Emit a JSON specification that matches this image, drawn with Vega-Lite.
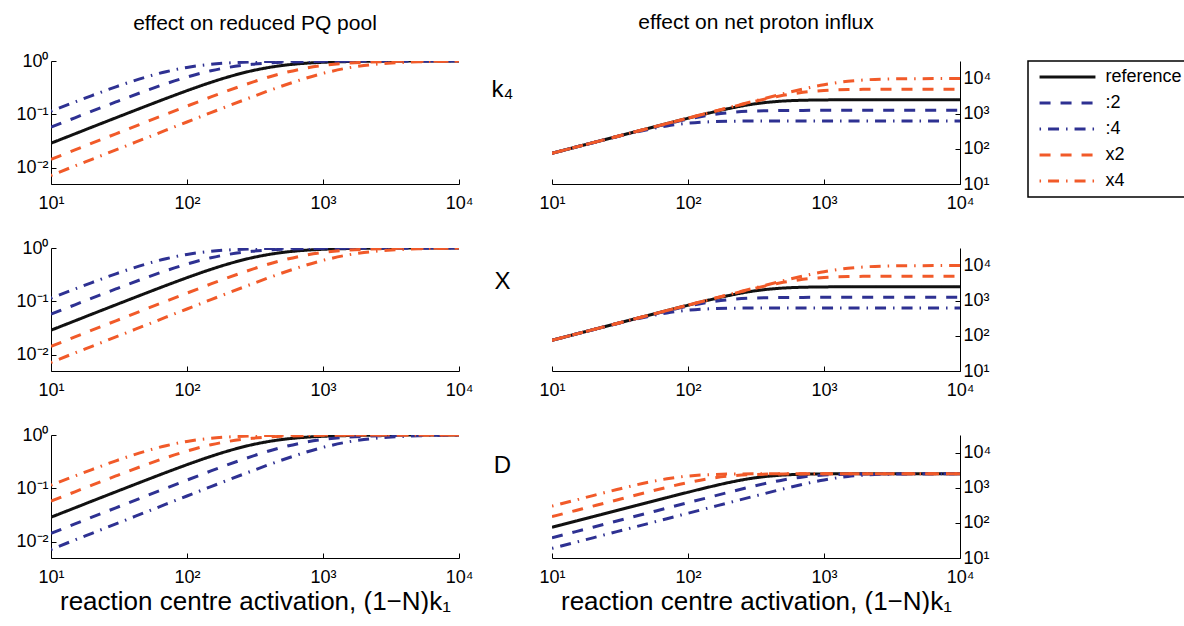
{
  "$schema": "https://vega.github.io/schema/vega-lite/v6.json",
  "background": "white",
  "padding": {"left": 15, "top": 12, "right": 0, "bottom": 0},
  "config": {
    "font": "Liberation Sans",
    "view": {"stroke": null},
    "axis": {"grid": false, "domainColor": "black", "tickColor": "black", "labelColor": "black", "labelFont": "Liberation Sans", "labelFontSize": 18, "tickSize": -5, "labelFlush": false, "labelOverlap": false, "titleFont": "Liberation Sans", "titleFontWeight": "normal", "titleColor": "black", "domainWidth": 1, "tickWidth": 1},
    "axisX": {"labelPadding": 15},
    "axisY": {"labelPadding": 8},
    "title": {"font": "Liberation Sans", "fontSize": 21, "fontWeight": "normal", "color": "black", "offset": 18},
    "legend": {"orient": "right", "offset": 37, "strokeColor": "black", "strokeWidth": 1.5, "padding": 7, "symbolType": "M-5,0H5", "symbolSize": 125, "symbolStrokeWidth": 3, "symbolOffset": 23.5, "labelOffset": 29, "labelFontSize": 18, "labelFont": "Liberation Sans", "labelColor": "black", "rowPadding": 8}
  },
  "data": {"values": [
    {"r":"k4","c":"L","s":"reference","x":10,"y":0.029},{"r":"k4","c":"L","s":"reference","x":15,"y":0.0434},{"r":"k4","c":"L","s":"reference","x":20,"y":0.0579},{"r":"k4","c":"L","s":"reference","x":30,"y":0.0866},{"r":"k4","c":"L","s":"reference","x":50,"y":0.1434},{"r":"k4","c":"L","s":"reference","x":70,"y":0.1989},{"r":"k4","c":"L","s":"reference","x":100,"y":0.2784},{"r":"k4","c":"L","s":"reference","x":150,"y":0.3987},{"r":"k4","c":"L","s":"reference","x":200,"y":0.5015},{"r":"k4","c":"L","s":"reference","x":300,"y":0.6562},{"r":"k4","c":"L","s":"reference","x":500,"y":0.8231},{"r":"k4","c":"L","s":"reference","x":700,"y":0.897},{"r":"k4","c":"L","s":"reference","x":1000,"y":0.9453},{"r":"k4","c":"L","s":"reference","x":1500,"y":0.9746},{"r":"k4","c":"L","s":"reference","x":2000,"y":0.9855},{"r":"k4","c":"L","s":"reference","x":3000,"y":0.9935},{"r":"k4","c":"L","s":"reference","x":5000,"y":0.9976},{"r":"k4","c":"L","s":"reference","x":10000,"y":0.9994},
    {"r":"k4","c":"L","s":":2","x":10,"y":0.0579},{"r":"k4","c":"L","s":":2","x":15,"y":0.0866},{"r":"k4","c":"L","s":":2","x":20,"y":0.1152},{"r":"k4","c":"L","s":":2","x":30,"y":0.1713},{"r":"k4","c":"L","s":":2","x":50,"y":0.2784},{"r":"k4","c":"L","s":":2","x":70,"y":0.376},{"r":"k4","c":"L","s":":2","x":100,"y":0.5015},{"r":"k4","c":"L","s":":2","x":150,"y":0.6562},{"r":"k4","c":"L","s":":2","x":200,"y":0.7573},{"r":"k4","c":"L","s":":2","x":300,"y":0.8669},{"r":"k4","c":"L","s":":2","x":500,"y":0.9453},{"r":"k4","c":"L","s":":2","x":700,"y":0.971},{"r":"k4","c":"L","s":":2","x":1000,"y":0.9855},{"r":"k4","c":"L","s":":2","x":1500,"y":0.9935},{"r":"k4","c":"L","s":":2","x":2000,"y":0.9963},{"r":"k4","c":"L","s":":2","x":3000,"y":0.9984},{"r":"k4","c":"L","s":":2","x":5000,"y":0.9994},{"r":"k4","c":"L","s":":2","x":10000,"y":0.9999},
    {"r":"k4","c":"L","s":":4","x":10,"y":0.1152},{"r":"k4","c":"L","s":":4","x":15,"y":0.1713},{"r":"k4","c":"L","s":":4","x":20,"y":0.2259},{"r":"k4","c":"L","s":":4","x":30,"y":0.3285},{"r":"k4","c":"L","s":":4","x":50,"y":0.5015},{"r":"k4","c":"L","s":":4","x":70,"y":0.6302},{"r":"k4","c":"L","s":":4","x":100,"y":0.7573},{"r":"k4","c":"L","s":":4","x":150,"y":0.8669},{"r":"k4","c":"L","s":":4","x":200,"y":0.9183},{"r":"k4","c":"L","s":":4","x":300,"y":0.9611},{"r":"k4","c":"L","s":":4","x":500,"y":0.9855},{"r":"k4","c":"L","s":":4","x":700,"y":0.9925},{"r":"k4","c":"L","s":":4","x":1000,"y":0.9963},{"r":"k4","c":"L","s":":4","x":1500,"y":0.9984},{"r":"k4","c":"L","s":":4","x":2000,"y":0.9991},{"r":"k4","c":"L","s":":4","x":3000,"y":0.9996},{"r":"k4","c":"L","s":":4","x":5000,"y":0.9999},{"r":"k4","c":"L","s":":4","x":10000,"y":1},
    {"r":"k4","c":"L","s":"x2","x":10,"y":0.0145},{"r":"k4","c":"L","s":"x2","x":15,"y":0.0217},{"r":"k4","c":"L","s":"x2","x":20,"y":0.029},{"r":"k4","c":"L","s":"x2","x":30,"y":0.0434},{"r":"k4","c":"L","s":"x2","x":50,"y":0.0723},{"r":"k4","c":"L","s":"x2","x":70,"y":0.1009},{"r":"k4","c":"L","s":"x2","x":100,"y":0.1434},{"r":"k4","c":"L","s":"x2","x":150,"y":0.2124},{"r":"k4","c":"L","s":"x2","x":200,"y":0.2784},{"r":"k4","c":"L","s":"x2","x":300,"y":0.3987},{"r":"k4","c":"L","s":"x2","x":500,"y":0.5868},{"r":"k4","c":"L","s":"x2","x":700,"y":0.7122},{"r":"k4","c":"L","s":"x2","x":1000,"y":0.8231},{"r":"k4","c":"L","s":"x2","x":1500,"y":0.9085},{"r":"k4","c":"L","s":"x2","x":2000,"y":0.9453},{"r":"k4","c":"L","s":"x2","x":3000,"y":0.9746},{"r":"k4","c":"L","s":"x2","x":5000,"y":0.9906},{"r":"k4","c":"L","s":"x2","x":10000,"y":0.9976},
    {"r":"k4","c":"L","s":"x4","x":10,"y":0.0072},{"r":"k4","c":"L","s":"x4","x":15,"y":0.0109},{"r":"k4","c":"L","s":"x4","x":20,"y":0.0145},{"r":"k4","c":"L","s":"x4","x":30,"y":0.0217},{"r":"k4","c":"L","s":"x4","x":50,"y":0.0362},{"r":"k4","c":"L","s":"x4","x":70,"y":0.0507},{"r":"k4","c":"L","s":"x4","x":100,"y":0.0723},{"r":"k4","c":"L","s":"x4","x":150,"y":0.1081},{"r":"k4","c":"L","s":"x4","x":200,"y":0.1434},{"r":"k4","c":"L","s":"x4","x":300,"y":0.2124},{"r":"k4","c":"L","s":"x4","x":500,"y":0.3407},{"r":"k4","c":"L","s":"x4","x":700,"y":0.4524},{"r":"k4","c":"L","s":"x4","x":1000,"y":0.5868},{"r":"k4","c":"L","s":"x4","x":1500,"y":0.7359},{"r":"k4","c":"L","s":"x4","x":2000,"y":0.8231},{"r":"k4","c":"L","s":"x4","x":3000,"y":0.9085},{"r":"k4","c":"L","s":"x4","x":5000,"y":0.964},{"r":"k4","c":"L","s":"x4","x":10000,"y":0.9906},

    {"r":"X","c":"L","s":"reference","x":10,"y":0.029},{"r":"X","c":"L","s":"reference","x":15,"y":0.0434},{"r":"X","c":"L","s":"reference","x":20,"y":0.0579},{"r":"X","c":"L","s":"reference","x":30,"y":0.0866},{"r":"X","c":"L","s":"reference","x":50,"y":0.1434},{"r":"X","c":"L","s":"reference","x":70,"y":0.1989},{"r":"X","c":"L","s":"reference","x":100,"y":0.2784},{"r":"X","c":"L","s":"reference","x":150,"y":0.3987},{"r":"X","c":"L","s":"reference","x":200,"y":0.5015},{"r":"X","c":"L","s":"reference","x":300,"y":0.6562},{"r":"X","c":"L","s":"reference","x":500,"y":0.8231},{"r":"X","c":"L","s":"reference","x":700,"y":0.897},{"r":"X","c":"L","s":"reference","x":1000,"y":0.9453},{"r":"X","c":"L","s":"reference","x":1500,"y":0.9746},{"r":"X","c":"L","s":"reference","x":2000,"y":0.9855},{"r":"X","c":"L","s":"reference","x":3000,"y":0.9935},{"r":"X","c":"L","s":"reference","x":5000,"y":0.9976},{"r":"X","c":"L","s":"reference","x":10000,"y":0.9994},
    {"r":"X","c":"L","s":":2","x":10,"y":0.0579},{"r":"X","c":"L","s":":2","x":15,"y":0.0866},{"r":"X","c":"L","s":":2","x":20,"y":0.1152},{"r":"X","c":"L","s":":2","x":30,"y":0.1713},{"r":"X","c":"L","s":":2","x":50,"y":0.2784},{"r":"X","c":"L","s":":2","x":70,"y":0.376},{"r":"X","c":"L","s":":2","x":100,"y":0.5015},{"r":"X","c":"L","s":":2","x":150,"y":0.6562},{"r":"X","c":"L","s":":2","x":200,"y":0.7573},{"r":"X","c":"L","s":":2","x":300,"y":0.8669},{"r":"X","c":"L","s":":2","x":500,"y":0.9453},{"r":"X","c":"L","s":":2","x":700,"y":0.971},{"r":"X","c":"L","s":":2","x":1000,"y":0.9855},{"r":"X","c":"L","s":":2","x":1500,"y":0.9935},{"r":"X","c":"L","s":":2","x":2000,"y":0.9963},{"r":"X","c":"L","s":":2","x":3000,"y":0.9984},{"r":"X","c":"L","s":":2","x":5000,"y":0.9994},{"r":"X","c":"L","s":":2","x":10000,"y":0.9999},
    {"r":"X","c":"L","s":":4","x":10,"y":0.1152},{"r":"X","c":"L","s":":4","x":15,"y":0.1713},{"r":"X","c":"L","s":":4","x":20,"y":0.2259},{"r":"X","c":"L","s":":4","x":30,"y":0.3285},{"r":"X","c":"L","s":":4","x":50,"y":0.5015},{"r":"X","c":"L","s":":4","x":70,"y":0.6302},{"r":"X","c":"L","s":":4","x":100,"y":0.7573},{"r":"X","c":"L","s":":4","x":150,"y":0.8669},{"r":"X","c":"L","s":":4","x":200,"y":0.9183},{"r":"X","c":"L","s":":4","x":300,"y":0.9611},{"r":"X","c":"L","s":":4","x":500,"y":0.9855},{"r":"X","c":"L","s":":4","x":700,"y":0.9925},{"r":"X","c":"L","s":":4","x":1000,"y":0.9963},{"r":"X","c":"L","s":":4","x":1500,"y":0.9984},{"r":"X","c":"L","s":":4","x":2000,"y":0.9991},{"r":"X","c":"L","s":":4","x":3000,"y":0.9996},{"r":"X","c":"L","s":":4","x":5000,"y":0.9999},{"r":"X","c":"L","s":":4","x":10000,"y":1},
    {"r":"X","c":"L","s":"x2","x":10,"y":0.0145},{"r":"X","c":"L","s":"x2","x":15,"y":0.0217},{"r":"X","c":"L","s":"x2","x":20,"y":0.029},{"r":"X","c":"L","s":"x2","x":30,"y":0.0434},{"r":"X","c":"L","s":"x2","x":50,"y":0.0723},{"r":"X","c":"L","s":"x2","x":70,"y":0.1009},{"r":"X","c":"L","s":"x2","x":100,"y":0.1434},{"r":"X","c":"L","s":"x2","x":150,"y":0.2124},{"r":"X","c":"L","s":"x2","x":200,"y":0.2784},{"r":"X","c":"L","s":"x2","x":300,"y":0.3987},{"r":"X","c":"L","s":"x2","x":500,"y":0.5868},{"r":"X","c":"L","s":"x2","x":700,"y":0.7122},{"r":"X","c":"L","s":"x2","x":1000,"y":0.8231},{"r":"X","c":"L","s":"x2","x":1500,"y":0.9085},{"r":"X","c":"L","s":"x2","x":2000,"y":0.9453},{"r":"X","c":"L","s":"x2","x":3000,"y":0.9746},{"r":"X","c":"L","s":"x2","x":5000,"y":0.9906},{"r":"X","c":"L","s":"x2","x":10000,"y":0.9976},
    {"r":"X","c":"L","s":"x4","x":10,"y":0.0072},{"r":"X","c":"L","s":"x4","x":15,"y":0.0109},{"r":"X","c":"L","s":"x4","x":20,"y":0.0145},{"r":"X","c":"L","s":"x4","x":30,"y":0.0217},{"r":"X","c":"L","s":"x4","x":50,"y":0.0362},{"r":"X","c":"L","s":"x4","x":70,"y":0.0507},{"r":"X","c":"L","s":"x4","x":100,"y":0.0723},{"r":"X","c":"L","s":"x4","x":150,"y":0.1081},{"r":"X","c":"L","s":"x4","x":200,"y":0.1434},{"r":"X","c":"L","s":"x4","x":300,"y":0.2124},{"r":"X","c":"L","s":"x4","x":500,"y":0.3407},{"r":"X","c":"L","s":"x4","x":700,"y":0.4524},{"r":"X","c":"L","s":"x4","x":1000,"y":0.5868},{"r":"X","c":"L","s":"x4","x":1500,"y":0.7359},{"r":"X","c":"L","s":"x4","x":2000,"y":0.8231},{"r":"X","c":"L","s":"x4","x":3000,"y":0.9085},{"r":"X","c":"L","s":"x4","x":5000,"y":0.964},{"r":"X","c":"L","s":"x4","x":10000,"y":0.9906},

    {"r":"D","c":"L","s":"reference","x":10,"y":0.029},{"r":"D","c":"L","s":"reference","x":15,"y":0.0434},{"r":"D","c":"L","s":"reference","x":20,"y":0.0579},{"r":"D","c":"L","s":"reference","x":30,"y":0.0866},{"r":"D","c":"L","s":"reference","x":50,"y":0.1434},{"r":"D","c":"L","s":"reference","x":70,"y":0.1989},{"r":"D","c":"L","s":"reference","x":100,"y":0.2784},{"r":"D","c":"L","s":"reference","x":150,"y":0.3987},{"r":"D","c":"L","s":"reference","x":200,"y":0.5015},{"r":"D","c":"L","s":"reference","x":300,"y":0.6562},{"r":"D","c":"L","s":"reference","x":500,"y":0.8231},{"r":"D","c":"L","s":"reference","x":700,"y":0.897},{"r":"D","c":"L","s":"reference","x":1000,"y":0.9453},{"r":"D","c":"L","s":"reference","x":1500,"y":0.9746},{"r":"D","c":"L","s":"reference","x":2000,"y":0.9855},{"r":"D","c":"L","s":"reference","x":3000,"y":0.9935},{"r":"D","c":"L","s":"reference","x":5000,"y":0.9976},{"r":"D","c":"L","s":"reference","x":10000,"y":0.9994},
    {"r":"D","c":"L","s":":2","x":10,"y":0.0145},{"r":"D","c":"L","s":":2","x":15,"y":0.0217},{"r":"D","c":"L","s":":2","x":20,"y":0.029},{"r":"D","c":"L","s":":2","x":30,"y":0.0434},{"r":"D","c":"L","s":":2","x":50,"y":0.0723},{"r":"D","c":"L","s":":2","x":70,"y":0.1009},{"r":"D","c":"L","s":":2","x":100,"y":0.1434},{"r":"D","c":"L","s":":2","x":150,"y":0.2124},{"r":"D","c":"L","s":":2","x":200,"y":0.2784},{"r":"D","c":"L","s":":2","x":300,"y":0.3987},{"r":"D","c":"L","s":":2","x":500,"y":0.5868},{"r":"D","c":"L","s":":2","x":700,"y":0.7122},{"r":"D","c":"L","s":":2","x":1000,"y":0.8231},{"r":"D","c":"L","s":":2","x":1500,"y":0.9085},{"r":"D","c":"L","s":":2","x":2000,"y":0.9453},{"r":"D","c":"L","s":":2","x":3000,"y":0.9746},{"r":"D","c":"L","s":":2","x":5000,"y":0.9906},{"r":"D","c":"L","s":":2","x":10000,"y":0.9976},
    {"r":"D","c":"L","s":":4","x":10,"y":0.0072},{"r":"D","c":"L","s":":4","x":15,"y":0.0109},{"r":"D","c":"L","s":":4","x":20,"y":0.0145},{"r":"D","c":"L","s":":4","x":30,"y":0.0217},{"r":"D","c":"L","s":":4","x":50,"y":0.0362},{"r":"D","c":"L","s":":4","x":70,"y":0.0507},{"r":"D","c":"L","s":":4","x":100,"y":0.0723},{"r":"D","c":"L","s":":4","x":150,"y":0.1081},{"r":"D","c":"L","s":":4","x":200,"y":0.1434},{"r":"D","c":"L","s":":4","x":300,"y":0.2124},{"r":"D","c":"L","s":":4","x":500,"y":0.3407},{"r":"D","c":"L","s":":4","x":700,"y":0.4524},{"r":"D","c":"L","s":":4","x":1000,"y":0.5868},{"r":"D","c":"L","s":":4","x":1500,"y":0.7359},{"r":"D","c":"L","s":":4","x":2000,"y":0.8231},{"r":"D","c":"L","s":":4","x":3000,"y":0.9085},{"r":"D","c":"L","s":":4","x":5000,"y":0.964},{"r":"D","c":"L","s":":4","x":10000,"y":0.9906},
    {"r":"D","c":"L","s":"x2","x":10,"y":0.0579},{"r":"D","c":"L","s":"x2","x":15,"y":0.0866},{"r":"D","c":"L","s":"x2","x":20,"y":0.1152},{"r":"D","c":"L","s":"x2","x":30,"y":0.1713},{"r":"D","c":"L","s":"x2","x":50,"y":0.2784},{"r":"D","c":"L","s":"x2","x":70,"y":0.376},{"r":"D","c":"L","s":"x2","x":100,"y":0.5015},{"r":"D","c":"L","s":"x2","x":150,"y":0.6562},{"r":"D","c":"L","s":"x2","x":200,"y":0.7573},{"r":"D","c":"L","s":"x2","x":300,"y":0.8669},{"r":"D","c":"L","s":"x2","x":500,"y":0.9453},{"r":"D","c":"L","s":"x2","x":700,"y":0.971},{"r":"D","c":"L","s":"x2","x":1000,"y":0.9855},{"r":"D","c":"L","s":"x2","x":1500,"y":0.9935},{"r":"D","c":"L","s":"x2","x":2000,"y":0.9963},{"r":"D","c":"L","s":"x2","x":3000,"y":0.9984},{"r":"D","c":"L","s":"x2","x":5000,"y":0.9994},{"r":"D","c":"L","s":"x2","x":10000,"y":0.9999},
    {"r":"D","c":"L","s":"x4","x":10,"y":0.1152},{"r":"D","c":"L","s":"x4","x":15,"y":0.1713},{"r":"D","c":"L","s":"x4","x":20,"y":0.2259},{"r":"D","c":"L","s":"x4","x":30,"y":0.3285},{"r":"D","c":"L","s":"x4","x":50,"y":0.5015},{"r":"D","c":"L","s":"x4","x":70,"y":0.6302},{"r":"D","c":"L","s":"x4","x":100,"y":0.7573},{"r":"D","c":"L","s":"x4","x":150,"y":0.8669},{"r":"D","c":"L","s":"x4","x":200,"y":0.9183},{"r":"D","c":"L","s":"x4","x":300,"y":0.9611},{"r":"D","c":"L","s":"x4","x":500,"y":0.9855},{"r":"D","c":"L","s":"x4","x":700,"y":0.9925},{"r":"D","c":"L","s":"x4","x":1000,"y":0.9963},{"r":"D","c":"L","s":"x4","x":1500,"y":0.9984},{"r":"D","c":"L","s":"x4","x":2000,"y":0.9991},{"r":"D","c":"L","s":"x4","x":3000,"y":0.9996},{"r":"D","c":"L","s":"x4","x":5000,"y":0.9999},{"r":"D","c":"L","s":"x4","x":10000,"y":1},

    {"r":"k4","c":"R","s":"reference","x":10,"y":75},{"r":"k4","c":"R","s":"reference","x":15,"y":112.5},{"r":"k4","c":"R","s":"reference","x":20,"y":150},{"r":"k4","c":"R","s":"reference","x":30,"y":224.9},{"r":"k4","c":"R","s":"reference","x":50,"y":374.6},{"r":"k4","c":"R","s":"reference","x":70,"y":523.4},{"r":"k4","c":"R","s":"reference","x":100,"y":743.4},{"r":"k4","c":"R","s":"reference","x":150,"y":1092.8},{"r":"k4","c":"R","s":"reference","x":200,"y":1405.3},{"r":"k4","c":"R","s":"reference","x":300,"y":1874.6},{"r":"k4","c":"R","s":"reference","x":500,"y":2292.8},{"r":"k4","c":"R","s":"reference","x":700,"y":2416},{"r":"k4","c":"R","s":"reference","x":1000,"y":2469.9},{"r":"k4","c":"R","s":"reference","x":1500,"y":2491},{"r":"k4","c":"R","s":"reference","x":2000,"y":2496.2},{"r":"k4","c":"R","s":"reference","x":3000,"y":2498.9},{"r":"k4","c":"R","s":"reference","x":5000,"y":2499.8},{"r":"k4","c":"R","s":"reference","x":10000,"y":2500},
    {"r":"k4","c":"R","s":":2","x":10,"y":75},{"r":"k4","c":"R","s":":2","x":15,"y":112.5},{"r":"k4","c":"R","s":":2","x":20,"y":149.9},{"r":"k4","c":"R","s":":2","x":30,"y":224.6},{"r":"k4","c":"R","s":":2","x":50,"y":371.7},{"r":"k4","c":"R","s":":2","x":70,"y":512.6},{"r":"k4","c":"R","s":":2","x":100,"y":702.7},{"r":"k4","c":"R","s":":2","x":150,"y":937.3},{"r":"k4","c":"R","s":":2","x":200,"y":1073.5},{"r":"k4","c":"R","s":":2","x":300,"y":1185.8},{"r":"k4","c":"R","s":":2","x":500,"y":1234.9},{"r":"k4","c":"R","s":":2","x":700,"y":1244.5},{"r":"k4","c":"R","s":":2","x":1000,"y":1248.1},{"r":"k4","c":"R","s":":2","x":1500,"y":1249.4},{"r":"k4","c":"R","s":":2","x":2000,"y":1249.8},{"r":"k4","c":"R","s":":2","x":3000,"y":1249.9},{"r":"k4","c":"R","s":":2","x":5000,"y":1250},{"r":"k4","c":"R","s":":2","x":10000,"y":1250},
    {"r":"k4","c":"R","s":":4","x":10,"y":75},{"r":"k4","c":"R","s":":4","x":15,"y":112.3},{"r":"k4","c":"R","s":":4","x":20,"y":149.3},{"r":"k4","c":"R","s":":4","x":30,"y":221.6},{"r":"k4","c":"R","s":":4","x":50,"y":351.3},{"r":"k4","c":"R","s":":4","x":70,"y":449.5},{"r":"k4","c":"R","s":":4","x":100,"y":536.8},{"r":"k4","c":"R","s":":4","x":150,"y":592.9},{"r":"k4","c":"R","s":":4","x":200,"y":610.6},{"r":"k4","c":"R","s":":4","x":300,"y":620.6},{"r":"k4","c":"R","s":":4","x":500,"y":624},{"r":"k4","c":"R","s":":4","x":700,"y":624.7},{"r":"k4","c":"R","s":":4","x":1000,"y":624.9},{"r":"k4","c":"R","s":":4","x":1500,"y":625},{"r":"k4","c":"R","s":":4","x":2000,"y":625},{"r":"k4","c":"R","s":":4","x":3000,"y":625},{"r":"k4","c":"R","s":":4","x":5000,"y":625},{"r":"k4","c":"R","s":":4","x":10000,"y":625},
    {"r":"k4","c":"R","s":"x2","x":10,"y":75},{"r":"k4","c":"R","s":"x2","x":15,"y":112.5},{"r":"k4","c":"R","s":"x2","x":20,"y":150},{"r":"k4","c":"R","s":"x2","x":30,"y":225},{"r":"k4","c":"R","s":"x2","x":50,"y":375},{"r":"k4","c":"R","s":"x2","x":70,"y":524.8},{"r":"k4","c":"R","s":"x2","x":100,"y":749.2},{"r":"k4","c":"R","s":"x2","x":150,"y":1120.8},{"r":"k4","c":"R","s":"x2","x":200,"y":1486.8},{"r":"k4","c":"R","s":"x2","x":300,"y":2185.6},{"r":"k4","c":"R","s":"x2","x":500,"y":3334.9},{"r":"k4","c":"R","s":"x2","x":700,"y":4062.9},{"r":"k4","c":"R","s":"x2","x":1000,"y":4585.5},{"r":"k4","c":"R","s":"x2","x":1500,"y":4861.7},{"r":"k4","c":"R","s":"x2","x":2000,"y":4939.8},{"r":"k4","c":"R","s":"x2","x":3000,"y":4982},{"r":"k4","c":"R","s":"x2","x":5000,"y":4996.1},{"r":"k4","c":"R","s":"x2","x":10000,"y":4999.5},
    {"r":"k4","c":"R","s":"x4","x":10,"y":75},{"r":"k4","c":"R","s":"x4","x":15,"y":112.5},{"r":"k4","c":"R","s":"x4","x":20,"y":150},{"r":"k4","c":"R","s":"x4","x":30,"y":225},{"r":"k4","c":"R","s":"x4","x":50,"y":375},{"r":"k4","c":"R","s":"x4","x":70,"y":525},{"r":"k4","c":"R","s":"x4","x":100,"y":749.9},{"r":"k4","c":"R","s":"x4","x":150,"y":1124.5},{"r":"k4","c":"R","s":"x4","x":200,"y":1498.3},{"r":"k4","c":"R","s":"x4","x":300,"y":2241.5},{"r":"k4","c":"R","s":"x4","x":500,"y":3686.3},{"r":"k4","c":"R","s":"x4","x":700,"y":5018.7},{"r":"k4","c":"R","s":"x4","x":1000,"y":6669.7},{"r":"k4","c":"R","s":"x4","x":1500,"y":8374.9},{"r":"k4","c":"R","s":"x4","x":2000,"y":9171},{"r":"k4","c":"R","s":"x4","x":3000,"y":9723.3},{"r":"k4","c":"R","s":"x4","x":5000,"y":9937.5},{"r":"k4","c":"R","s":"x4","x":10000,"y":9992.1},

    {"r":"X","c":"R","s":"reference","x":10,"y":75},{"r":"X","c":"R","s":"reference","x":15,"y":112.5},{"r":"X","c":"R","s":"reference","x":20,"y":150},{"r":"X","c":"R","s":"reference","x":30,"y":224.9},{"r":"X","c":"R","s":"reference","x":50,"y":374.6},{"r":"X","c":"R","s":"reference","x":70,"y":523.4},{"r":"X","c":"R","s":"reference","x":100,"y":743.4},{"r":"X","c":"R","s":"reference","x":150,"y":1092.8},{"r":"X","c":"R","s":"reference","x":200,"y":1405.3},{"r":"X","c":"R","s":"reference","x":300,"y":1874.6},{"r":"X","c":"R","s":"reference","x":500,"y":2292.8},{"r":"X","c":"R","s":"reference","x":700,"y":2416},{"r":"X","c":"R","s":"reference","x":1000,"y":2469.9},{"r":"X","c":"R","s":"reference","x":1500,"y":2491},{"r":"X","c":"R","s":"reference","x":2000,"y":2496.2},{"r":"X","c":"R","s":"reference","x":3000,"y":2498.9},{"r":"X","c":"R","s":"reference","x":5000,"y":2499.8},{"r":"X","c":"R","s":"reference","x":10000,"y":2500},
    {"r":"X","c":"R","s":":2","x":10,"y":75},{"r":"X","c":"R","s":":2","x":15,"y":112.5},{"r":"X","c":"R","s":":2","x":20,"y":149.9},{"r":"X","c":"R","s":":2","x":30,"y":224.6},{"r":"X","c":"R","s":":2","x":50,"y":371.7},{"r":"X","c":"R","s":":2","x":70,"y":512.6},{"r":"X","c":"R","s":":2","x":100,"y":702.7},{"r":"X","c":"R","s":":2","x":150,"y":937.3},{"r":"X","c":"R","s":":2","x":200,"y":1073.5},{"r":"X","c":"R","s":":2","x":300,"y":1185.8},{"r":"X","c":"R","s":":2","x":500,"y":1234.9},{"r":"X","c":"R","s":":2","x":700,"y":1244.5},{"r":"X","c":"R","s":":2","x":1000,"y":1248.1},{"r":"X","c":"R","s":":2","x":1500,"y":1249.4},{"r":"X","c":"R","s":":2","x":2000,"y":1249.8},{"r":"X","c":"R","s":":2","x":3000,"y":1249.9},{"r":"X","c":"R","s":":2","x":5000,"y":1250},{"r":"X","c":"R","s":":2","x":10000,"y":1250},
    {"r":"X","c":"R","s":":4","x":10,"y":75},{"r":"X","c":"R","s":":4","x":15,"y":112.3},{"r":"X","c":"R","s":":4","x":20,"y":149.3},{"r":"X","c":"R","s":":4","x":30,"y":221.6},{"r":"X","c":"R","s":":4","x":50,"y":351.3},{"r":"X","c":"R","s":":4","x":70,"y":449.5},{"r":"X","c":"R","s":":4","x":100,"y":536.8},{"r":"X","c":"R","s":":4","x":150,"y":592.9},{"r":"X","c":"R","s":":4","x":200,"y":610.6},{"r":"X","c":"R","s":":4","x":300,"y":620.6},{"r":"X","c":"R","s":":4","x":500,"y":624},{"r":"X","c":"R","s":":4","x":700,"y":624.7},{"r":"X","c":"R","s":":4","x":1000,"y":624.9},{"r":"X","c":"R","s":":4","x":1500,"y":625},{"r":"X","c":"R","s":":4","x":2000,"y":625},{"r":"X","c":"R","s":":4","x":3000,"y":625},{"r":"X","c":"R","s":":4","x":5000,"y":625},{"r":"X","c":"R","s":":4","x":10000,"y":625},
    {"r":"X","c":"R","s":"x2","x":10,"y":75},{"r":"X","c":"R","s":"x2","x":15,"y":112.5},{"r":"X","c":"R","s":"x2","x":20,"y":150},{"r":"X","c":"R","s":"x2","x":30,"y":225},{"r":"X","c":"R","s":"x2","x":50,"y":375},{"r":"X","c":"R","s":"x2","x":70,"y":524.8},{"r":"X","c":"R","s":"x2","x":100,"y":749.2},{"r":"X","c":"R","s":"x2","x":150,"y":1120.8},{"r":"X","c":"R","s":"x2","x":200,"y":1486.8},{"r":"X","c":"R","s":"x2","x":300,"y":2185.6},{"r":"X","c":"R","s":"x2","x":500,"y":3334.9},{"r":"X","c":"R","s":"x2","x":700,"y":4062.9},{"r":"X","c":"R","s":"x2","x":1000,"y":4585.5},{"r":"X","c":"R","s":"x2","x":1500,"y":4861.7},{"r":"X","c":"R","s":"x2","x":2000,"y":4939.8},{"r":"X","c":"R","s":"x2","x":3000,"y":4982},{"r":"X","c":"R","s":"x2","x":5000,"y":4996.1},{"r":"X","c":"R","s":"x2","x":10000,"y":4999.5},
    {"r":"X","c":"R","s":"x4","x":10,"y":75},{"r":"X","c":"R","s":"x4","x":15,"y":112.5},{"r":"X","c":"R","s":"x4","x":20,"y":150},{"r":"X","c":"R","s":"x4","x":30,"y":225},{"r":"X","c":"R","s":"x4","x":50,"y":375},{"r":"X","c":"R","s":"x4","x":70,"y":525},{"r":"X","c":"R","s":"x4","x":100,"y":749.9},{"r":"X","c":"R","s":"x4","x":150,"y":1124.5},{"r":"X","c":"R","s":"x4","x":200,"y":1498.3},{"r":"X","c":"R","s":"x4","x":300,"y":2241.5},{"r":"X","c":"R","s":"x4","x":500,"y":3686.3},{"r":"X","c":"R","s":"x4","x":700,"y":5018.7},{"r":"X","c":"R","s":"x4","x":1000,"y":6669.7},{"r":"X","c":"R","s":"x4","x":1500,"y":8374.9},{"r":"X","c":"R","s":"x4","x":2000,"y":9171},{"r":"X","c":"R","s":"x4","x":3000,"y":9723.3},{"r":"X","c":"R","s":"x4","x":5000,"y":9937.5},{"r":"X","c":"R","s":"x4","x":10000,"y":9992.1},

    {"r":"D","c":"R","s":"reference","x":10,"y":75},{"r":"D","c":"R","s":"reference","x":15,"y":112.5},{"r":"D","c":"R","s":"reference","x":20,"y":150},{"r":"D","c":"R","s":"reference","x":30,"y":224.9},{"r":"D","c":"R","s":"reference","x":50,"y":374.6},{"r":"D","c":"R","s":"reference","x":70,"y":523.4},{"r":"D","c":"R","s":"reference","x":100,"y":743.4},{"r":"D","c":"R","s":"reference","x":150,"y":1092.8},{"r":"D","c":"R","s":"reference","x":200,"y":1405.3},{"r":"D","c":"R","s":"reference","x":300,"y":1874.6},{"r":"D","c":"R","s":"reference","x":500,"y":2292.8},{"r":"D","c":"R","s":"reference","x":700,"y":2416},{"r":"D","c":"R","s":"reference","x":1000,"y":2469.9},{"r":"D","c":"R","s":"reference","x":1500,"y":2491},{"r":"D","c":"R","s":"reference","x":2000,"y":2496.2},{"r":"D","c":"R","s":"reference","x":3000,"y":2498.9},{"r":"D","c":"R","s":"reference","x":5000,"y":2499.8},{"r":"D","c":"R","s":"reference","x":10000,"y":2500},
    {"r":"D","c":"R","s":":2","x":10,"y":37.5},{"r":"D","c":"R","s":":2","x":15,"y":56.3},{"r":"D","c":"R","s":":2","x":20,"y":75},{"r":"D","c":"R","s":":2","x":30,"y":112.5},{"r":"D","c":"R","s":":2","x":50,"y":187.5},{"r":"D","c":"R","s":":2","x":70,"y":262.4},{"r":"D","c":"R","s":":2","x":100,"y":374.6},{"r":"D","c":"R","s":":2","x":150,"y":560.4},{"r":"D","c":"R","s":":2","x":200,"y":743.4},{"r":"D","c":"R","s":":2","x":300,"y":1092.8},{"r":"D","c":"R","s":":2","x":500,"y":1667.4},{"r":"D","c":"R","s":":2","x":700,"y":2031.5},{"r":"D","c":"R","s":":2","x":1000,"y":2292.8},{"r":"D","c":"R","s":":2","x":1500,"y":2430.8},{"r":"D","c":"R","s":":2","x":2000,"y":2469.9},{"r":"D","c":"R","s":":2","x":3000,"y":2491},{"r":"D","c":"R","s":":2","x":5000,"y":2498},{"r":"D","c":"R","s":":2","x":10000,"y":2499.8},
    {"r":"D","c":"R","s":":4","x":10,"y":18.75},{"r":"D","c":"R","s":":4","x":15,"y":28.1},{"r":"D","c":"R","s":":4","x":20,"y":37.5},{"r":"D","c":"R","s":":4","x":30,"y":56.3},{"r":"D","c":"R","s":":4","x":50,"y":93.75},{"r":"D","c":"R","s":":4","x":70,"y":131.25},{"r":"D","c":"R","s":":4","x":100,"y":187.5},{"r":"D","c":"R","s":":4","x":150,"y":281.1},{"r":"D","c":"R","s":":4","x":200,"y":374.6},{"r":"D","c":"R","s":":4","x":300,"y":560.4},{"r":"D","c":"R","s":":4","x":500,"y":921.6},{"r":"D","c":"R","s":":4","x":700,"y":1254.7},{"r":"D","c":"R","s":":4","x":1000,"y":1667.4},{"r":"D","c":"R","s":":4","x":1500,"y":2093.7},{"r":"D","c":"R","s":":4","x":2000,"y":2292.8},{"r":"D","c":"R","s":":4","x":3000,"y":2430.8},{"r":"D","c":"R","s":":4","x":5000,"y":2484.4},{"r":"D","c":"R","s":":4","x":10000,"y":2498},
    {"r":"D","c":"R","s":"x2","x":10,"y":150},{"r":"D","c":"R","s":"x2","x":15,"y":224.9},{"r":"D","c":"R","s":"x2","x":20,"y":299.8},{"r":"D","c":"R","s":"x2","x":30,"y":449.1},{"r":"D","c":"R","s":"x2","x":50,"y":743.4},{"r":"D","c":"R","s":"x2","x":70,"y":1025.3},{"r":"D","c":"R","s":"x2","x":100,"y":1405.3},{"r":"D","c":"R","s":"x2","x":150,"y":1874.6},{"r":"D","c":"R","s":"x2","x":200,"y":2147},{"r":"D","c":"R","s":"x2","x":300,"y":2371.5},{"r":"D","c":"R","s":"x2","x":500,"y":2469.9},{"r":"D","c":"R","s":"x2","x":700,"y":2488.9},{"r":"D","c":"R","s":"x2","x":1000,"y":2496.2},{"r":"D","c":"R","s":"x2","x":1500,"y":2498.9},{"r":"D","c":"R","s":"x2","x":2000,"y":2499.5},{"r":"D","c":"R","s":"x2","x":3000,"y":2499.9},{"r":"D","c":"R","s":"x2","x":5000,"y":2500},{"r":"D","c":"R","s":"x2","x":10000,"y":2500},
    {"r":"D","c":"R","s":"x4","x":10,"y":299.8},{"r":"D","c":"R","s":"x4","x":15,"y":449.1},{"r":"D","c":"R","s":"x4","x":20,"y":597.3},{"r":"D","c":"R","s":"x4","x":30,"y":886.4},{"r":"D","c":"R","s":"x4","x":50,"y":1405.3},{"r":"D","c":"R","s":"x4","x":70,"y":1798.2},{"r":"D","c":"R","s":"x4","x":100,"y":2147},{"r":"D","c":"R","s":"x4","x":150,"y":2371.5},{"r":"D","c":"R","s":"x4","x":200,"y":2442.4},{"r":"D","c":"R","s":"x4","x":300,"y":2482.4},{"r":"D","c":"R","s":"x4","x":500,"y":2496.2},{"r":"D","c":"R","s":"x4","x":700,"y":2498.6},{"r":"D","c":"R","s":"x4","x":1000,"y":2499.5},{"r":"D","c":"R","s":"x4","x":1500,"y":2499.9},{"r":"D","c":"R","s":"x4","x":2000,"y":2500},{"r":"D","c":"R","s":"x4","x":3000,"y":2500},{"r":"D","c":"R","s":"x4","x":5000,"y":2500},{"r":"D","c":"R","s":"x4","x":10000,"y":2500}
  ]},
  "columns": 2,
  "spacing": {"row": 64, "column": 93},
  "bounds": "flush",
  "resolve": {"scale": {"x": "independent", "y": "independent"}},
  "concat": [
    {
      "width": 408, "height": 123,
      "title": {"text": "effect on reduced PQ pool"},
      "transform": [{"filter": "datum.r == 'k4' && datum.c == 'L'"}],
      "mark": {"type": "line", "strokeWidth": 3, "interpolate": "monotone", "clip": true},
      "encoding": {
        "x": {"field": "x", "type": "quantitative", "scale": {"type": "log", "domain": [10, 10000], "nice": false}, "axis": {"values": [10, 100, 1000, 10000], "title": null, "labelExpr": "'10' + replace(replace(replace(replace(replace(replace('' + round(log(datum.value) / LN10), '-', '⁻'), '0', '⁰'), '1', '¹'), '2', '²'), '3', '³'), '4', '⁴')"}},
        "y": {"field": "y", "type": "quantitative", "scale": {"type": "log", "domain": [0.005, 1], "nice": false}, "axis": {"values": [0.01, 0.1, 1], "title": null, "labelExpr": "'10' + replace(replace(replace(replace(replace(replace('' + round(log(datum.value) / LN10), '-', '⁻'), '0', '⁰'), '1', '¹'), '2', '²'), '3', '³'), '4', '⁴')"}},
        "color": {"field": "s", "type": "nominal", "scale": {"domain": ["reference", ":2", ":4", "x2", "x4"], "range": ["#111111", "#2e3192", "#2e3192", "#f15a29", "#f15a29"]}, "legend": {"title": null}},
        "strokeDash": {"field": "s", "type": "nominal", "scale": {"domain": ["reference", ":2", ":4", "x2", "x4"], "range": [[1, 0], [11, 10], [1.5, 7, 11, 7], [11, 10], [1.5, 7, 11, 7]]}, "legend": {"title": null}}
      }
    },
    {
      "width": 408, "height": 123,
      "title": {"text": "effect on net proton influx", "offset": 28},
      "transform": [{"filter": "datum.r == 'k4' && datum.c == 'R'"}],
      "mark": {"type": "line", "strokeWidth": 3, "interpolate": "monotone", "clip": true},
      "encoding": {
        "x": {"field": "x", "type": "quantitative", "scale": {"type": "log", "domain": [10, 10000], "nice": false}, "axis": {"values": [10, 100, 1000, 10000], "title": null, "labelExpr": "'10' + replace(replace(replace(replace(replace(replace('' + round(log(datum.value) / LN10), '-', '⁻'), '0', '⁰'), '1', '¹'), '2', '²'), '3', '³'), '4', '⁴')"}},
        "y": {"field": "y", "type": "quantitative", "scale": {"type": "log", "domain": [10, 31623], "nice": false}, "axis": {"orient": "right", "values": [10, 100, 1000, 10000], "title": "k₄", "titleAngle": 0, "titleX": -458, "titleY": 28, "titleFontSize": 24, "titleAlign": "center", "titleBaseline": "middle", "labelExpr": "'10' + replace(replace(replace(replace(replace(replace('' + round(log(datum.value) / LN10), '-', '⁻'), '0', '⁰'), '1', '¹'), '2', '²'), '3', '³'), '4', '⁴')"}},
        "color": {"field": "s", "type": "nominal", "scale": {"domain": ["reference", ":2", ":4", "x2", "x4"], "range": ["#111111", "#2e3192", "#2e3192", "#f15a29", "#f15a29"]}, "legend": {"title": null}},
        "strokeDash": {"field": "s", "type": "nominal", "scale": {"domain": ["reference", ":2", ":4", "x2", "x4"], "range": [[1, 0], [11, 10], [1.5, 7, 11, 7], [11, 10], [1.5, 7, 11, 7]]}, "legend": {"title": null}}
      }
    },
    {
      "width": 408, "height": 123,
      "transform": [{"filter": "datum.r == 'X' && datum.c == 'L'"}],
      "mark": {"type": "line", "strokeWidth": 3, "interpolate": "monotone", "clip": true},
      "encoding": {
        "x": {"field": "x", "type": "quantitative", "scale": {"type": "log", "domain": [10, 10000], "nice": false}, "axis": {"values": [10, 100, 1000, 10000], "title": null, "labelExpr": "'10' + replace(replace(replace(replace(replace(replace('' + round(log(datum.value) / LN10), '-', '⁻'), '0', '⁰'), '1', '¹'), '2', '²'), '3', '³'), '4', '⁴')"}},
        "y": {"field": "y", "type": "quantitative", "scale": {"type": "log", "domain": [0.005, 1], "nice": false}, "axis": {"values": [0.01, 0.1, 1], "title": null, "labelExpr": "'10' + replace(replace(replace(replace(replace(replace('' + round(log(datum.value) / LN10), '-', '⁻'), '0', '⁰'), '1', '¹'), '2', '²'), '3', '³'), '4', '⁴')"}},
        "color": {"field": "s", "type": "nominal", "scale": {"domain": ["reference", ":2", ":4", "x2", "x4"], "range": ["#111111", "#2e3192", "#2e3192", "#f15a29", "#f15a29"]}, "legend": {"title": null}},
        "strokeDash": {"field": "s", "type": "nominal", "scale": {"domain": ["reference", ":2", ":4", "x2", "x4"], "range": [[1, 0], [11, 10], [1.5, 7, 11, 7], [11, 10], [1.5, 7, 11, 7]]}, "legend": {"title": null}}
      }
    },
    {
      "width": 408, "height": 123,
      "transform": [{"filter": "datum.r == 'X' && datum.c == 'R'"}],
      "mark": {"type": "line", "strokeWidth": 3, "interpolate": "monotone", "clip": true},
      "encoding": {
        "x": {"field": "x", "type": "quantitative", "scale": {"type": "log", "domain": [10, 10000], "nice": false}, "axis": {"values": [10, 100, 1000, 10000], "title": null, "labelExpr": "'10' + replace(replace(replace(replace(replace(replace('' + round(log(datum.value) / LN10), '-', '⁻'), '0', '⁰'), '1', '¹'), '2', '²'), '3', '³'), '4', '⁴')"}},
        "y": {"field": "y", "type": "quantitative", "scale": {"type": "log", "domain": [10, 31623], "nice": false}, "axis": {"orient": "right", "values": [10, 100, 1000, 10000], "title": "X", "titleAngle": 0, "titleX": -458, "titleY": 33, "titleFontSize": 24, "titleAlign": "center", "titleBaseline": "middle", "labelExpr": "'10' + replace(replace(replace(replace(replace(replace('' + round(log(datum.value) / LN10), '-', '⁻'), '0', '⁰'), '1', '¹'), '2', '²'), '3', '³'), '4', '⁴')"}},
        "color": {"field": "s", "type": "nominal", "scale": {"domain": ["reference", ":2", ":4", "x2", "x4"], "range": ["#111111", "#2e3192", "#2e3192", "#f15a29", "#f15a29"]}, "legend": {"title": null}},
        "strokeDash": {"field": "s", "type": "nominal", "scale": {"domain": ["reference", ":2", ":4", "x2", "x4"], "range": [[1, 0], [11, 10], [1.5, 7, 11, 7], [11, 10], [1.5, 7, 11, 7]]}, "legend": {"title": null}}
      }
    },
    {
      "width": 408, "height": 123,
      "transform": [{"filter": "datum.r == 'D' && datum.c == 'L'"}],
      "mark": {"type": "line", "strokeWidth": 3, "interpolate": "monotone", "clip": true},
      "encoding": {
        "x": {"field": "x", "type": "quantitative", "scale": {"type": "log", "domain": [10, 10000], "nice": false}, "axis": {"values": [10, 100, 1000, 10000], "title": "reaction centre activation, (1−N)k₁", "titleFontSize": 26, "titlePadding": 2, "labelExpr": "'10' + replace(replace(replace(replace(replace(replace('' + round(log(datum.value) / LN10), '-', '⁻'), '0', '⁰'), '1', '¹'), '2', '²'), '3', '³'), '4', '⁴')"}},
        "y": {"field": "y", "type": "quantitative", "scale": {"type": "log", "domain": [0.005, 1], "nice": false}, "axis": {"values": [0.01, 0.1, 1], "title": null, "labelExpr": "'10' + replace(replace(replace(replace(replace(replace('' + round(log(datum.value) / LN10), '-', '⁻'), '0', '⁰'), '1', '¹'), '2', '²'), '3', '³'), '4', '⁴')"}},
        "color": {"field": "s", "type": "nominal", "scale": {"domain": ["reference", ":2", ":4", "x2", "x4"], "range": ["#111111", "#2e3192", "#2e3192", "#f15a29", "#f15a29"]}, "legend": {"title": null}},
        "strokeDash": {"field": "s", "type": "nominal", "scale": {"domain": ["reference", ":2", ":4", "x2", "x4"], "range": [[1, 0], [11, 10], [1.5, 7, 11, 7], [11, 10], [1.5, 7, 11, 7]]}, "legend": {"title": null}}
      }
    },
    {
      "width": 408, "height": 123,
      "transform": [{"filter": "datum.r == 'D' && datum.c == 'R'"}],
      "mark": {"type": "line", "strokeWidth": 3, "interpolate": "monotone", "clip": true},
      "encoding": {
        "x": {"field": "x", "type": "quantitative", "scale": {"type": "log", "domain": [10, 10000], "nice": false}, "axis": {"values": [10, 100, 1000, 10000], "title": "reaction centre activation, (1−N)k₁", "titleFontSize": 26, "titlePadding": 2, "labelExpr": "'10' + replace(replace(replace(replace(replace(replace('' + round(log(datum.value) / LN10), '-', '⁻'), '0', '⁰'), '1', '¹'), '2', '²'), '3', '³'), '4', '⁴')"}},
        "y": {"field": "y", "type": "quantitative", "scale": {"type": "log", "domain": [10, 31623], "nice": false}, "axis": {"orient": "right", "values": [10, 100, 1000, 10000], "title": "D", "titleAngle": 0, "titleX": -458, "titleY": 30, "titleFontSize": 24, "titleAlign": "center", "titleBaseline": "middle", "labelExpr": "'10' + replace(replace(replace(replace(replace(replace('' + round(log(datum.value) / LN10), '-', '⁻'), '0', '⁰'), '1', '¹'), '2', '²'), '3', '³'), '4', '⁴')"}},
        "color": {"field": "s", "type": "nominal", "scale": {"domain": ["reference", ":2", ":4", "x2", "x4"], "range": ["#111111", "#2e3192", "#2e3192", "#f15a29", "#f15a29"]}, "legend": {"title": null}},
        "strokeDash": {"field": "s", "type": "nominal", "scale": {"domain": ["reference", ":2", ":4", "x2", "x4"], "range": [[1, 0], [11, 10], [1.5, 7, 11, 7], [11, 10], [1.5, 7, 11, 7]]}, "legend": {"title": null}}
      }
    }
  ]
}
